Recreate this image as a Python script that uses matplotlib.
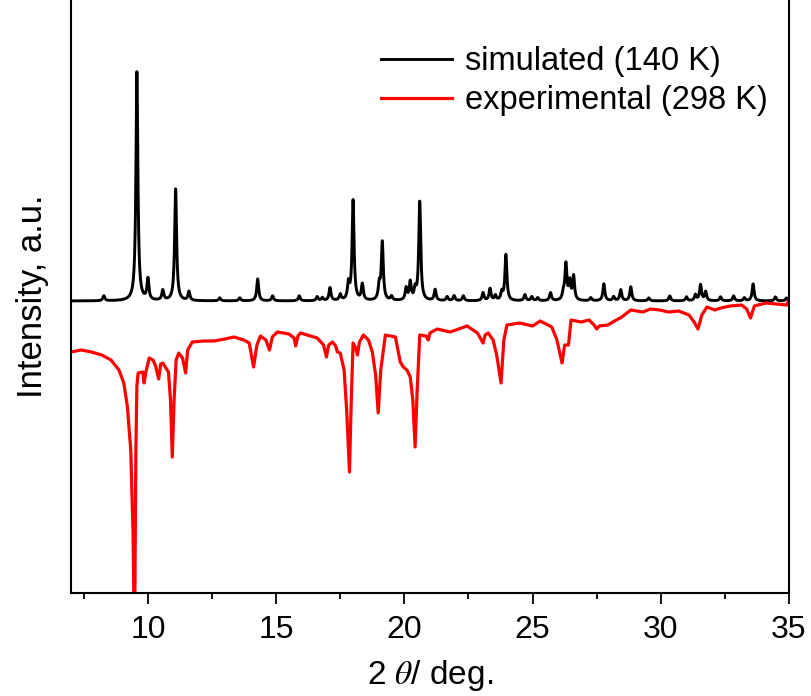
import matplotlib
matplotlib.use('Agg')
import matplotlib.pyplot as plt
import numpy as np

plt.rcParams['font.family'] = ['Liberation Sans', 'DejaVu Sans']
plt.rcParams['mathtext.fontset'] = 'stix'

# simulated pattern: peak positions (2theta) and heights (a.u.)
sim_pos = [8.28, 9.57, 10.0, 10.58, 11.08, 11.6, 12.8, 13.58, 14.28, 14.86,
           15.9, 16.6, 16.8, 17.1, 17.5, 17.82, 18.0, 18.36, 19.02, 19.14,
           19.5, 20.07, 20.23, 20.42, 20.6, 21.2, 21.67, 21.94, 22.3, 23.07,
           23.34, 23.55, 23.8, 23.96, 24.7, 24.97, 25.2, 25.7, 26.2, 26.3,
           26.45, 26.6, 27.27, 27.78, 28.16, 28.44, 28.83, 29.53, 30.35, 31.0,
           31.35, 31.55, 31.75, 32.33, 32.84, 33.26, 33.6, 34.47, 34.9]
sim_height = [5, 229, 21, 10, 112, 9, 3, 3, 22, 5,
              5, 4, 3, 13, 6, 16, 100, 16, 15, 58,
              4, 12, 18, 10, 99, 11, 4, 5, 5, 8,
              12, 5, 8, 46, 6, 4, 3, 8, 7, 36,
              18, 24, 3, 17, 4, 11, 14, 3, 5, 4,
              6, 16, 9, 4, 5, 3, 17, 4, 3]
sim_fwhm = 0.09

# experimental pattern, traced (2theta, intensity)
exp_x = [7.0, 7.4, 7.8, 8.2, 8.56, 8.87, 9.06, 9.2, 9.33, 9.42,
         9.46, 9.49, 9.53, 9.57, 9.62, 9.8, 9.85, 9.92, 10.05, 10.2,
         10.3, 10.42, 10.5, 10.58, 10.7, 10.8, 10.88, 10.95, 11.02, 11.1,
         11.2, 11.35, 11.47, 11.55, 11.73, 12.2, 12.57, 13.0, 13.35, 13.74,
         13.95, 14.12, 14.25, 14.39, 14.6, 14.74, 14.85, 15.05, 15.5, 15.7,
         15.76, 15.85, 15.95, 16.6, 16.85, 16.96, 17.05, 17.2, 17.32, 17.39,
         17.5, 17.65, 17.75, 17.86, 17.93, 18.0, 18.1, 18.17, 18.25, 18.4,
         18.6, 18.75, 18.88, 18.98, 19.08, 19.26, 19.65, 19.84, 19.96, 20.1,
         20.23, 20.33, 20.42, 20.5, 20.6, 20.85, 20.93, 21.0, 21.28, 21.79,
         22.45, 22.85, 23.07, 23.15, 23.27, 23.46, 23.6, 23.77, 23.88, 24.0,
         24.5, 25.0, 25.3, 25.75, 25.95, 26.15, 26.25, 26.4, 26.5, 26.9,
         27.2, 27.4, 27.5, 27.6, 27.93, 28.2, 28.48, 28.83, 29.3, 29.6,
         29.96, 30.3, 30.7, 31.1, 31.3, 31.45, 31.6, 31.8, 32.1, 32.35,
         32.7, 33.15, 33.35, 33.5, 33.65, 34.1, 34.5, 34.9, 35.0]
exp_y = [-51, -49, -51, -54, -59, -69, -82, -106, -149, -232,
         -310, -300, -149, -84, -72, -71, -82, -71, -57, -59,
         -65, -78, -63, -62, -67, -71, -99, -156, -99, -59,
         -52, -57, -72, -49, -41, -40, -40, -38, -36, -39,
         -42, -66, -44, -35, -39, -49, -36, -31, -33, -37,
         -45, -35, -32, -37, -44, -56, -44, -41, -45, -51,
         -52, -69, -109, -171, -99, -42, -47, -54, -41, -34,
         -39, -51, -74, -112, -69, -34, -36, -61, -66, -69,
         -76, -99, -146, -89, -34, -35, -39, -32, -28, -31,
         -25, -32, -42, -34, -32, -39, -54, -82, -39, -24,
         -22, -25, -20, -26, -39, -62, -44, -44, -19, -21,
         -19, -24, -28, -25, -24, -20, -16, -9, -11, -8,
         -9, -11, -10, -14, -21, -28, -14, -6, -9, -7,
         -5, -4, -8, -17, -5, -2, -3, -4, 1]

x = np.linspace(7, 35, 4000)
sim = np.zeros_like(x)
for p, h in zip(sim_pos, sim_height):
    sim += h / (1 + ((x - p) / (sim_fwhm / 2)) ** 2)

fig = plt.figure(figsize=(8.12, 6.96), dpi=100)
ax = fig.add_axes([71 / 812, 103 / 696, 718 / 812, 593 / 696])

ax.plot(x, sim, color='black', lw=2.1, label='simulated (140 K)')
ax.plot(exp_x, exp_y, color='red', lw=2.3, label='experimental (298 K)')

ax.set_xlim(7, 35)
ax.set_ylim(-292, 301)
ax.set_xticks([10, 15, 20, 25, 30, 35])
ax.set_xticks(np.arange(7.5, 35, 5), minor=True)
ax.set_yticks([])
ax.tick_params(axis='x', which='major', length=8, width=1.3, labelsize=23, pad=8)
ax.tick_params(axis='x', which='minor', length=4.5, width=1.3)
for s in ['left', 'right', 'bottom']:
    ax.spines[s].set_linewidth(1.5)
ax.spines['top'].set_visible(False)

ax.set_xlabel(r'2 $\it{\theta}$/ deg.', fontsize=24, labelpad=9)
ax.set_ylabel('Intensity, a.u.', fontsize=25, labelpad=16)

ax.legend(loc='upper right', bbox_to_anchor=(1.012, 0.972), frameon=False,
          fontsize=23.5, handlelength=2.2, handletextpad=0.4, labelspacing=0.25)

plt.savefig('out.png', dpi=100)
